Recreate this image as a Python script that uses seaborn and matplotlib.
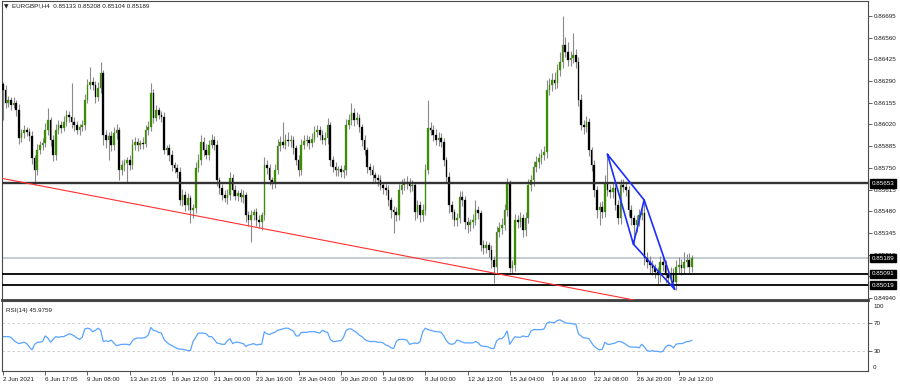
import numpy as np
import pandas as pd
import matplotlib
matplotlib.use("Agg")
import matplotlib.pyplot as plt
import matplotlib.transforms as mtransforms
import seaborn as sns

# ---------------- data (prices in points, 1 point = 0.00001) ----------------
symbol_title = "EURGBP!,H4  0.85133 0.85208 0.85104 0.85189"
rsi_title = "RSI(14) 45.9759"

first_open_pts = 86270
close_pts = [
    86235, 86154, 86172, 86141, 86154, 86110, 85936, 85967, 85986, 85973,
    85948, 85811, 85737, 85861, 85892, 85905, 85986, 86048, 85923, 85830,
    85986, 86017, 85998, 86035, 86079, 86067, 86035, 86017, 85986, 86004,
    86017, 86172, 86266, 86284, 86266, 86191, 86247, 86340, 85955, 85923,
    85948, 85892, 85967, 85986, 85737, 85768, 85780, 85799, 85768, 85892,
    85911, 85892, 85905, 85899, 85986, 86004, 86216, 86060, 86110, 86079,
    86067, 85861, 85874, 85830, 85768, 85749, 85724, 85550, 85581, 85519,
    85562, 85488, 85500, 85749, 85799, 85911, 85861, 85830, 85892, 85923,
    85892, 85675, 85625, 85581, 85562, 85581, 85687, 85612, 85575, 85594,
    85569, 85581, 85457, 85426, 85457, 85475, 85426, 85413, 85457, 85768,
    85749, 85675, 85656, 85737, 85886, 85911, 85892, 85923, 85917, 85923,
    85874, 85799, 85737, 85892, 85917, 85923, 85905, 85930, 85973, 85986,
    85955, 85923, 85936, 86017, 85799, 85755, 85737, 85743, 85724, 85737,
    86017, 86048, 86091, 86048, 86060, 86004, 85923, 85861, 85755, 85737,
    85706, 85687, 85675, 85643, 85625, 85612, 85550, 85488, 85475, 85457,
    85612, 85643, 85656, 85662, 85637, 85643, 85475, 85519, 85457, 85488,
    85737, 85998, 85986, 85955, 85923, 85936, 85911, 85799, 85693, 85519,
    85475, 85426, 85438, 85569, 85550, 85413, 85394, 85413, 85426, 85488,
    85469, 85270, 85251, 85270, 85239, 85177, 85133, 85351, 85376, 85394,
    85488, 85656, 85127, 85146, 85426, 85413, 85438, 85363, 85438, 85643,
    85675, 85755, 85787, 85811, 85830, 85849, 86235, 86266, 86297, 86278,
    86359, 86409, 86515, 86471, 86421, 86434, 86452, 86409, 86172, 86017,
    86004, 86035, 85861, 85768, 85612, 85488, 85506, 85475, 85656, 85612,
    85600, 85625, 85519, 85438, 85643, 85631, 85612, 85488, 85438, 85394,
    85426, 85457, 85469, 85189, 85164, 85146, 85127, 85102, 85083, 85164,
    85146, 85083, 85065, 85096, 85040, 85133, 85146, 85127, 85164, 85177,
    85133, 85189,
]
upper_wick_pts = [
    14, 30, 25, 20, 35, 20, 40, 25, 30, 20,
    25, 30, 20, 35, 25, 30, 40, 75, 20, 30,
    35, 30, 25, 40, 30, 25, 211, 30, 25, 20,
    30, 40, 35, 94, 30, 25, 40, 69, 20, 30,
    25, 30, 40, 35, 20, 30, 25, 20, 30, 40,
    30, 25, 20, 35, 30, 40, 62, 25, 30, 20,
    25, 30, 20, 25, 30, 20, 25, 30, 35, 25,
    30, 20, 25, 40, 35, 45, 30, 40, 30, 35,
    25, 30, 20, 25, 30, 35, 40, 25, 30, 20,
    25, 30, 20, 25, 30, 20, 25, 30, 20, 50,
    30, 25, 20, 40, 45, 35, 124, 40, 50, 30,
    25, 20, 30, 35, 40, 30, 25, 35, 40, 30,
    25, 30, 40, 45, 20, 25, 30, 20, 25, 30,
    40, 35, 63, 30, 40, 25, 20, 30, 20, 25,
    30, 20, 25, 30, 20, 25, 30, 20, 25, 30,
    40, 35, 30, 40, 25, 30, 20, 30, 25, 35,
    40, 174, 40, 30, 35, 40, 30, 25, 20, 30,
    25, 20, 30, 40, 35, 25, 30, 20, 40, 62,
    25, 20, 30, 25, 20, 30, 25, 40, 35, 45,
    40, 30, 19, 30, 40, 30, 35, 25, 40, 35,
    30, 40, 35, 30, 40, 35, 60, 40, 45, 50,
    40, 60, 180, 50, 60, 45, 137, 40, 30, 35,
    30, 40, 25, 20, 30, 25, 30, 35, 50, 178,
    30, 35, 25, 30, 40, 35, 30, 25, 30, 20,
    30, 35, 25, 81, 40, 35, 30, 25, 30, 40,
    35, 30, 25, 40, 30, 45, 50, 35, 60, 40,
    45, 19,
]
lower_wick_pts = [
    187, 30, 25, 30, 20, 35, 40, 25, 30, 25,
    30, 40, 94, 30, 25, 30, 25, 30, 35, 40,
    30, 25, 30, 20, 25, 30, 35, 40, 25, 30,
    25, 30, 20, 25, 30, 40, 25, 30, 60, 50,
    124, 40, 30, 35, 62, 30, 40, 124, 30, 25,
    30, 35, 25, 30, 20, 30, 25, 30, 20, 25,
    30, 25, 30, 40, 35, 30, 40, 30, 35, 40,
    30, 81, 50, 30, 25, 30, 35, 25, 30, 20,
    30, 40, 35, 30, 25, 35, 30, 40, 25, 30,
    30, 35, 45, 40, 138, 30, 40, 35, 50, 30,
    35, 30, 40, 30, 25, 30, 20, 25, 30, 35,
    40, 30, 35, 30, 25, 30, 35, 25, 20, 30,
    30, 25, 30, 35, 40, 30, 35, 40, 30, 35,
    30, 25, 30, 35, 25, 30, 40, 30, 35, 30,
    35, 30, 40, 30, 35, 30, 40, 50, 130, 40,
    30, 25, 30, 35, 40, 30, 50, 35, 45, 40,
    30, 25, 30, 35, 30, 40, 30, 35, 40, 50,
    45, 40, 35, 30, 40, 45, 50, 35, 40, 30,
    35, 40, 35, 30, 45, 50, 100, 40, 30, 35,
    30, 40, 23, 40, 35, 40, 30, 45, 35, 30,
    35, 40, 30, 35, 40, 30, 35, 30, 40, 35,
    30, 35, 40, 30, 35, 40, 30, 40, 35, 30,
    45, 30, 35, 40, 45, 50, 93, 40, 30, 35,
    40, 35, 30, 40, 35, 30, 40, 35, 45, 118,
    40, 35, 30, 45, 40, 50, 45, 40, 60, 45,
    40, 50, 45, 40, 46, 50, 40, 45, 35, 30,
    40, 29,
]
rsi_values = [
    51, 51, 51, 50, 46, 43, 41, 42, 43, 41,
    36, 32, 40, 43, 43, 44, 52, 49, 43, 47,
    51, 50, 51, 51, 53, 55, 54, 52, 49, 47,
    50, 62, 63, 62, 58, 60, 63, 60, 44, 45,
    44, 46, 42, 38, 39, 40, 40, 40, 39, 45,
    48, 49, 49, 49, 50, 53, 64, 60, 59, 57,
    56, 47, 43, 40, 38, 36, 34, 33, 33, 32,
    31, 31, 44, 50, 56, 56, 56, 55, 51, 51,
    47, 42, 41, 40, 40, 45, 48, 41, 43, 43,
    42, 41, 37, 39, 40, 41, 39, 40, 40, 58,
    55, 54, 56, 57, 60, 61, 62, 63, 63, 61,
    59, 52, 52, 57, 57, 57, 58, 58, 58, 57,
    56, 60, 58, 57, 47, 44, 44, 45, 45, 50,
    60, 62, 62, 59, 57, 53, 51, 47, 45, 44,
    44, 44, 43, 43, 42, 39, 38, 35, 34, 44,
    47, 47, 47, 46, 40, 41, 42, 41, 44, 58,
    63, 61, 60, 59, 58, 58, 57, 52, 45, 41,
    40, 41, 46, 45, 43, 42, 42, 42, 42, 44,
    42, 38, 37, 37, 36, 34, 34, 45, 48, 48,
    52, 59, 40, 46, 51, 50, 50, 52, 51, 51,
    59, 61, 61, 61, 61, 62, 70, 72, 71, 71,
    74, 75, 73, 71, 70, 70, 69, 69, 55, 52,
    49, 49, 48, 42, 37, 34, 32, 33, 43, 40,
    40, 41, 42, 44, 44, 42, 40, 37, 36, 36,
    36, 35, 40, 36, 31, 30, 31, 30, 30, 29,
    30, 36, 39, 38, 35, 40, 41, 41, 42, 44,
    44, 45.9759,
]

level_prices = [0.85653, 0.85091, 0.85019]
bid_price = 0.85189
price_ticks = [0.86695, 0.86560, 0.86425, 0.86290, 0.86155, 0.86020, 0.85885,
               0.85750, 0.85615, 0.85480, 0.85345, 0.85210, 0.85075, 0.84940]
rsi_levels = [70, 30]
time_labels = ["2 Jun 2021", "6 Jun 17:05", "9 Jun 08:00", "13 Jun 21:05",
               "16 Jun 12:00", "21 Jun 00:00", "23 Jun 16:00", "28 Jun 04:00",
               "30 Jun 20:00", "5 Jul 08:00", "8 Jul 00:00", "12 Jul 12:00",
               "15 Jul 04:00", "19 Jul 16:00", "22 Jul 08:00", "26 Jul 20:00",
               "29 Jul 12:00"]
time_label_bars = [0, 16, 32, 48, 64, 80, 96, 112, 128, 144, 160, 176, 192,
                   208, 224, 240, 256]

# trendline anchors (bar index, price)
trend_bars = [-1.14, 239.0]
trend_prices = [0.85687, 0.84928]
# harmonic pattern anchors X, A, B, D (bar index, price)
pattern_bars = [229.0, 238.8, 242.9, 254.5]
pattern_prices = [0.85834, 0.85276, 0.85550, 0.84994]

# ---------------- build table ----------------
n = len(close_pts)
closes = np.array(close_pts, dtype=float)
opens = np.concatenate([[first_open_pts], closes[:-1]])
highs = np.maximum(opens, closes) + np.array(upper_wick_pts)
lows = np.minimum(opens, closes) - np.array(lower_wick_pts)
df = pd.DataFrame({
    "bar": np.arange(n),
    "open": opens / 1e5, "high": highs / 1e5,
    "low": lows / 1e5, "close": closes / 1e5,
    "rsi": rsi_values,
})

# ---------------- style ----------------
sns.set_style("white")
plt.rcParams["font.family"] = ["Liberation Sans", "DejaVu Sans"]
FS = 4.5
TXT = "#1a1a1a"
FRAME = "#4a4a4a"

fig = plt.figure(figsize=(9.0, 3.86), dpi=100)
fig.patch.set_facecolor("white")
W, H = 900.0, 386.0
ax = fig.add_axes([2 / W, 1 - 300 / H, 866 / W, 299 / H])
ax2 = fig.add_axes([2 / W, 1 - 371 / H, 866 / W, 70 / H])

xlim = (-0.38, 327.7)

# ---- candles ----
up = df["close"] >= df["open"]
ax.vlines(df["bar"], df["low"], df["high"], color="#8a8a8a", lw=0.8, zorder=2)
body_bottom = np.minimum(df["open"], df["close"])
body_h = np.maximum(np.abs(df["close"] - df["open"]), 0.000015)
ax.bar(df["bar"][up], body_h[up], bottom=body_bottom[up], width=0.62,
       color="#3d8c05", edgecolor="#3d8c05", linewidth=0.2, zorder=3)
ax.bar(df["bar"][~up], body_h[~up], bottom=body_bottom[~up], width=0.62,
       color="#000000", edgecolor="#000000", linewidth=0.2, zorder=3)

# ---- lines ----
for lv, col, lw in zip(level_prices, ["#333333", "#000000", "#000000"], [1.7, 1.3, 1.3]):
    ax.axhline(lv, color=col, lw=lw, zorder=4)
ax.axhline(bid_price, color="#b9c4cc", lw=1.2, zorder=1.5)

ax.plot(trend_bars, trend_prices, color="#ff3030", lw=0.8, zorder=4)
px, py = pattern_bars, pattern_prices
ax.plot([px[0], px[1], px[2], px[0]], [py[0], py[1], py[2], py[0]],
        color="#1a2cff", lw=1.2, zorder=5)
ax.plot([px[1], px[3], px[2]], [py[1], py[3], py[2]],
        color="#1a2cff", lw=1.2, zorder=5)

ax.set_xlim(*xlim)
ax.set_ylim(0.84928, 0.86788)
ax.yaxis.tick_right()
ax.set_yticks(price_ticks)
ax.set_yticklabels([f"{v:.5f}" for v in price_ticks])
ax.tick_params(axis="y", right=True, left=False, length=3, width=0.6, pad=1,
               colors=FRAME, labelcolor=TXT, labelsize=FS)
ax.set_xticks([])
for s in ax.spines.values():
    s.set_color(FRAME)
    s.set_linewidth(0.8)
ax.spines["bottom"].set_linewidth(2.0)
ax.spines["bottom"].set_color("#404040")

# label boxes on the price scale (they cover the nearby scale labels, as in MT4)
trans = mtransforms.blended_transform_factory(ax.transAxes, ax.transData)
for lv in level_prices + [bid_price]:
    ax.text(1.0 + 4 / 866, lv, f"{lv:.5f}", transform=trans, ha="left", va="center",
            fontsize=FS, color="white", clip_on=False, zorder=10,
            bbox=dict(boxstyle="square,pad=0.25", facecolor="black", edgecolor="black"))

# title
fig.text(4 / W, 1 - 6.5 / H, "\u25BC", fontsize=4.2, color="#222222", va="center",
         ha="left", family=["DejaVu Sans"])
fig.text(12 / W, 1 - 6 / H, symbol_title, fontsize=FS, color=TXT, va="center", ha="left")

# ---- RSI ----
sns.lineplot(data=df, x="bar", y="rsi", ax=ax2, color="#5aa4ff", lw=0.9, legend=False)
for lv in rsi_levels:
    ax2.axhline(lv, color="#c8c8c8", lw=0.6, ls=(0, (3, 3)), zorder=1)
ax2.set_xlim(*xlim)
ax2.set_ylim(1.86, 101.9)
ax2.set_xlabel("")
ax2.set_ylabel("")
ax2.yaxis.tick_right()
ax2.set_yticks(rsi_levels)
ax2.set_yticklabels([str(v) for v in rsi_levels])
ax2.tick_params(axis="y", right=True, left=False, length=3, width=0.6, pad=1,
                colors=FRAME, labelcolor=TXT, labelsize=FS)
trans2 = mtransforms.blended_transform_factory(ax2.transAxes, ax2.transData)
ax2.text(1.0 + 5 / 866, 94.7, "100", transform=trans2, ha="left", va="center",
         fontsize=FS, color=TXT, clip_on=False)
ax2.text(1.0 + 5 / 866, 7.1, "0", transform=trans2, ha="left", va="center",
         fontsize=FS, color=TXT, clip_on=False)
ax2.text(4 / 866, 0.86, rsi_title, transform=ax2.transAxes, ha="left", va="center",
         fontsize=FS, color=TXT)

ax2.set_xticks(time_label_bars)
ax2.set_xticklabels(time_labels)
for lab in ax2.get_xticklabels():
    lab.set_horizontalalignment("left")
ax2.tick_params(axis="x", bottom=True, length=3, width=0.6, pad=1.5,
                colors=FRAME, labelcolor=TXT, labelsize=FS)
for s in ax2.spines.values():
    s.set_color(FRAME)
    s.set_linewidth(0.8)

fig.savefig("out.png", dpi=100, facecolor="white")
